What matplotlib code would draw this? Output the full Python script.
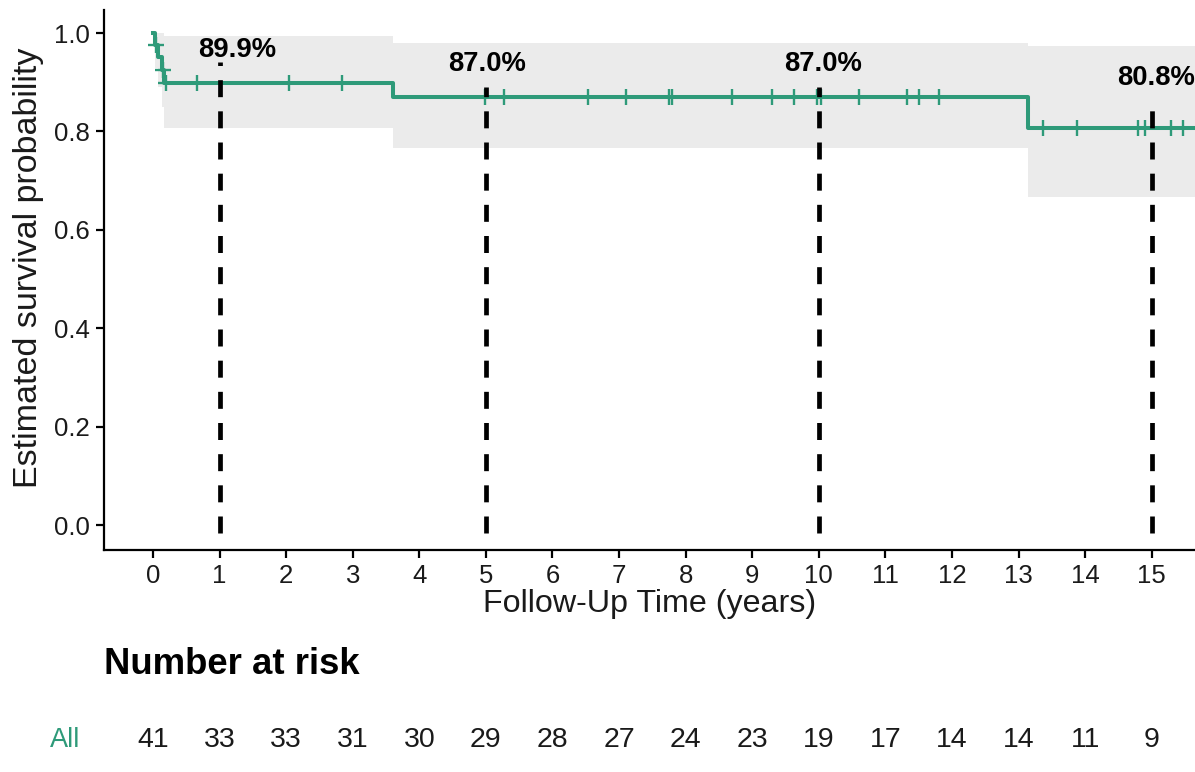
import numpy as np
import matplotlib
matplotlib.use("Agg")
import matplotlib.pyplot as plt
import matplotlib.transforms as mtransforms

plt.rcParams['font.family'] = ['Liberation Sans', 'DejaVu Sans']

# ---- data ----
step_times = [0.0, 0.03, 0.08, 0.13, 0.17, 3.61, 13.14, 15.8]
step_surv = [1.0, 0.976, 0.951, 0.925, 0.899, 0.870, 0.808, 0.808]
ci_upper = [1.0, 1.0, 1.0, 1.0, 0.995, 0.979, 0.974, 0.974]
ci_lower = [1.0, 0.93, 0.89, 0.85, 0.808, 0.766, 0.667, 0.667]
censor_times = [0.04, 0.15, 0.19, 0.66, 2.04, 2.84, 4.99, 5.27, 6.54, 7.10,
                7.75, 7.80, 8.70, 9.30, 9.63, 9.98, 10.03, 10.61, 11.33,
                11.51, 11.81, 13.36, 13.88, 14.79, 14.90, 15.29, 15.47]
landmark_years = [1, 5, 10, 15]
landmark_surv = [0.899, 0.870, 0.870, 0.808]
landmark_labels = ["89.9%", "87.0%", "87.0%", "80.8%"]
risk_times = list(range(16))
risk_counts = [41, 33, 33, 31, 30, 29, 28, 27, 24, 23, 19, 17, 14, 14, 11, 9]
group_name = "All"

# ---- style/layout ----
W, H = 1195, 772
color = "#2E9A79"
band_color = "#EBEBEB"
label_x = [1.26, 5.02, 10.06, 15.06]
label_y = [0.965, 0.937, 0.937, 0.909]
line_top = [0.941, 0.89, 0.89, 0.848]

fig = plt.figure(figsize=(W / 100, H / 100), dpi=100)
ax = fig.add_axes([104 / W, (H - 550) / H, (W - 104) / W, 540 / H])
ax.set_xlim(-0.736, 15.65)
ax.set_ylim(-0.0508, 1.047)

ax.fill_between(step_times, ci_lower, ci_upper, step="post", color=band_color,
                lw=0, zorder=1)
ax.step(step_times, step_surv, where="post", color=color, lw=2.9, zorder=3)

st = np.array(step_times)
ss = np.array(step_surv)
cy = [ss[np.searchsorted(st, t, side="right") - 1] for t in censor_times]
ax.plot(censor_times, cy, ls="none", marker="+", ms=12, mew=1.7, color=color,
        zorder=4)

for x, s, top, lab, lx, ly in zip(landmark_years, landmark_surv, line_top,
                                  landmark_labels, label_x, label_y):
    ln, = ax.plot([x, x], [-0.016, top], color="black", lw=3.4, zorder=5,
                  solid_capstyle="butt", dash_capstyle="butt")
    ln.set_dashes((3.6, 3.0))
    ax.text(lx, ly, lab, ha="center", va="center", fontsize=19.8,
            fontweight="bold", color="black", zorder=6, clip_on=False)

for sp in ["top", "right"]:
    ax.spines[sp].set_visible(False)
for sp in ["left", "bottom"]:
    ax.spines[sp].set_linewidth(1.6)
ax.set_xticks(range(16))
ax.set_yticks([0.0, 0.2, 0.4, 0.6, 0.8, 1.0])
ax.set_yticklabels(["0.0", "0.2", "0.4", "0.6", "0.8", "1.0"])
ax.tick_params(axis="both", labelsize=18.5, width=1.6, length=6, color="black",
               labelcolor="#1a1a1a", pad=4)
ax.set_xlabel("Follow-Up Time (years)", fontsize=23.2, color="#1a1a1a",
              labelpad=1)
ax.set_ylabel("Estimated survival probability", fontsize=24.5,
              color="#1a1a1a")
ax.yaxis.set_label_coords(-(104 - 44) / (W - 104), (550 - 268) / 540)

# risk table
fig.text(104 / W, (H - 665) / H, "Number at risk", fontsize=26.3,
         fontweight="bold", ha="left", va="center")
trans = mtransforms.blended_transform_factory(ax.transData, fig.transFigure)
for t, n in zip(risk_times, risk_counts):
    ax.text(t, (H - 740) / H, str(n), transform=trans, ha="center",
            va="center", fontsize=20.5, color="#1a1a1a", clip_on=False)
fig.text(80 / W, (H - 740) / H, group_name, ha="right", va="center",
         fontsize=19.5, color=color)

fig.savefig("out.png", dpi=100)
